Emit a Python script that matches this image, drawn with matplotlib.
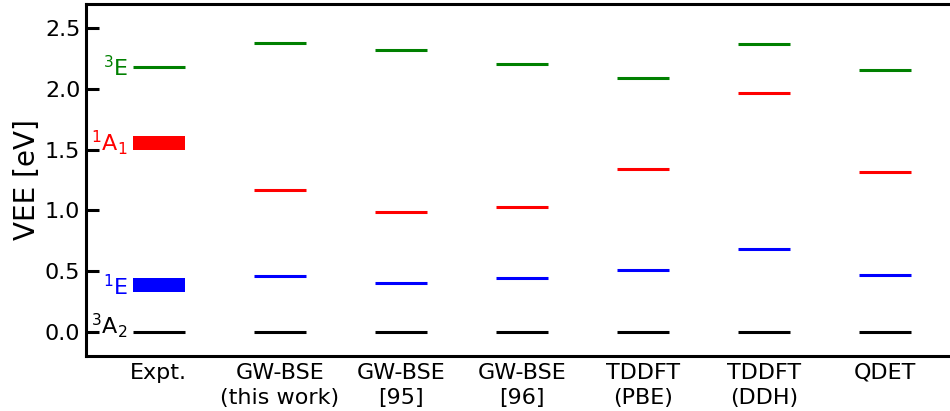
import matplotlib
matplotlib.use("Agg")
import matplotlib.pyplot as plt

methods = ["Expt.", "GW-BSE\n(this work)", "GW-BSE\n[95]", "GW-BSE\n[96]",
           "TDDFT\n(PBE)", "TDDFT\n(DDH)", "QDET"]
# Levels for the theory columns (index 1..6)
e_3A2 = [0.0, 0.0, 0.0, 0.0, 0.0, 0.0]
e_1E = [0.46, 0.40, 0.44, 0.51, 0.68, 0.47]
e_1A1 = [1.17, 0.99, 1.03, 1.34, 1.97, 1.32]
e_3E = [2.38, 2.32, 2.21, 2.09, 2.37, 2.16]
# Experiment
expt_3A2 = 0.0
expt_1E = (0.33, 0.44)
expt_1A1 = (1.50, 1.61)
expt_3E = 2.18

state_labels = [r"$^3$A$_2$", r"$^1$E", r"$^1$A$_1$", r"$^3$E"]
colors = ["black", "blue", "red", "green"]

fig = plt.figure(figsize=(9.5, 4.11), dpi=100)
ax = fig.add_axes([0.0905, 0.1338, 0.9095 + 0.002, 0.8562])

hw = 0.214
lw = 2.2
xs = list(range(1, len(methods)))
for vals, c in zip([e_3A2, e_1E, e_1A1, e_3E], colors):
    ax.hlines(vals, [x - hw for x in xs], [x + hw for x in xs], colors=c, lw=lw)

# Experiment column
ax.hlines([expt_3A2], [-hw], [hw], colors="black", lw=lw)
ax.hlines([expt_3E], [-hw], [hw], colors="green", lw=lw)
ax.bar([0], [expt_1E[1] - expt_1E[0]], bottom=[expt_1E[0]], width=2 * hw, color="blue")
ax.bar([0], [expt_1A1[1] - expt_1A1[0]], bottom=[expt_1A1[0]], width=2 * hw, color="red")

label_y = [expt_3A2 + 0.05, sum(expt_1E) / 2 - 0.01, sum(expt_1A1) / 2, expt_3E]
for lab, y, c in zip(state_labels, label_y, colors):
    ax.text(-hw - 0.04, y, lab, color=c, ha="right", va="center", fontsize=16)

ax.set_xlim(-0.6, 6.55)
ax.set_ylim(-0.2, 2.7)
ax.set_xticks(range(len(methods)))
ax.set_xticklabels(methods, fontsize=16, linespacing=1.3)
ax.set_yticks([0.0, 0.5, 1.0, 1.5, 2.0, 2.5])
ax.set_yticklabels(["0.0", "0.5", "1.0", "1.5", "2.0", "2.5"], fontsize=16)
ax.tick_params(axis="y", direction="in", length=9, width=2.2, pad=4)
ax.tick_params(axis="x", length=0, pad=5)
ax.set_ylabel("VEE [eV]", fontsize=20, labelpad=3)
for s in ["left", "top", "bottom"]:
    ax.spines[s].set_linewidth(2.2)
ax.spines["right"].set_visible(False)

fig.savefig("out.png", dpi=100)
